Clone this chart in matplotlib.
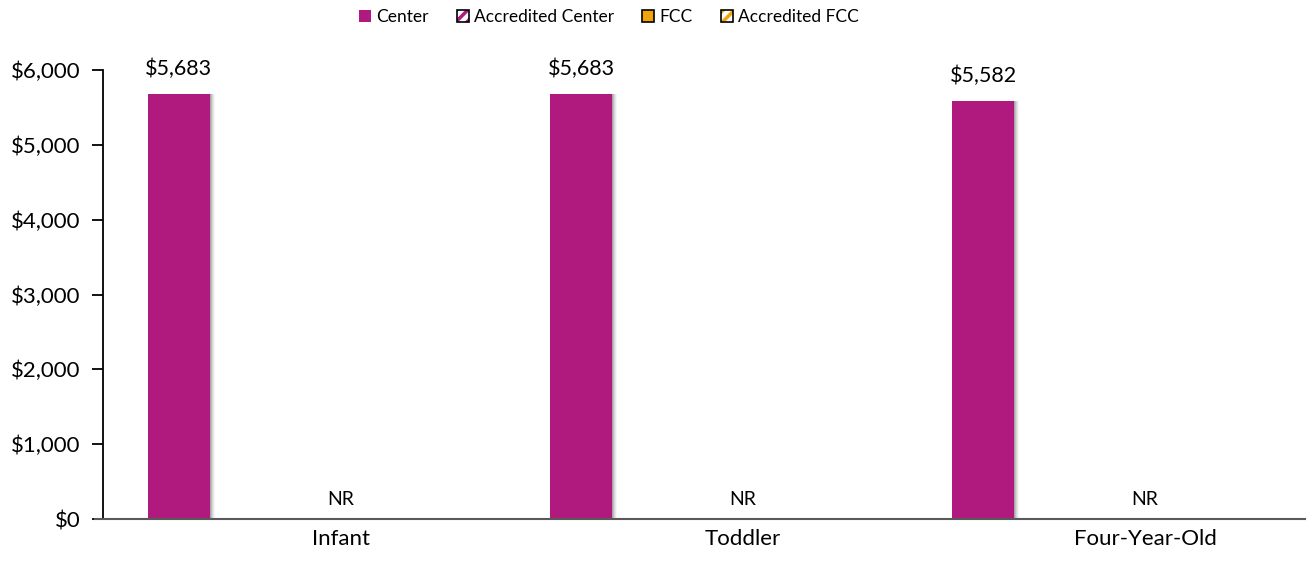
import matplotlib
matplotlib.use("Agg")
import matplotlib.pyplot as plt
from matplotlib.patches import Patch
from matplotlib.legend_handler import HandlerTuple
import numpy as np

categories = ["Infant", "Toddler", "Four-Year-Old"]
center_values = [5683, 5683, 5582]
center_labels = ["$5,683", "$5,683", "$5,582"]
nr_labels = ["NR", "NR", "NR"]
series_names = ["Center", "Accredited Center", "FCC", "Accredited FCC"]
yticks = [0, 1000, 2000, 3000, 4000, 5000, 6000]
ytick_labels = ["$0", "$1,000", "$2,000", "$3,000", "$4,000", "$5,000", "$6,000"]

MAGENTA = "#B01A7E"
ORANGE = "#F0A30A"

plt.rcParams['font.family'] = ['Lato', 'DejaVu Sans']
plt.rcParams['hatch.linewidth'] = 2.5

fig = plt.figure(figsize=(13.07, 5.65), dpi=100)
ax = fig.add_axes([103/1307, 1 - 519/565, (1305 - 103)/1307, (519 - 70)/565])

x = np.arange(len(categories))
off = -0.403
w = 0.154

# soft shadow to the right of bars
for i, a in enumerate([0.35, 0.25, 0.16, 0.09, 0.04]):
    ax.bar(x + off + w/2 + (i + 0.5) * 0.0025, center_values, width=0.0025,
           color="black", alpha=a, linewidth=0, zorder=1)

ax.bar(x + off, center_values, width=w, color=MAGENTA, linewidth=0, zorder=2)

for xi, v, lab in zip(x, center_values, center_labels):
    ax.text(xi + off, v + 200, lab, ha="center", va="bottom", fontsize=15.5)
for xi, lab in zip(x, nr_labels):
    ax.text(xi, 150, lab, ha="center", va="bottom", fontsize=14)

ax.set_xlim(-0.592, 2.398)
ax.set_ylim(0, 6000)
ax.set_yticks(yticks)
ax.set_yticklabels(ytick_labels, fontsize=16)
ax.set_xticks(x)
ax.set_xticklabels(categories, fontsize=16)
ax.tick_params(axis="x", length=0, pad=7)
ax.tick_params(axis="y", length=8, width=1.3, color="black", pad=8)

for s in ["top", "right"]:
    ax.spines[s].set_visible(False)
ax.spines["left"].set_color("black")
ax.spines["left"].set_linewidth(1.3)
ax.spines["bottom"].set_color("#595959")
ax.spines["bottom"].set_linewidth(1.5)
ax.spines["bottom"].set_bounds(-0.592 - 8/402, 2.398)
ax.spines["bottom"].set_zorder(3)

h_center = Patch(facecolor=MAGENTA, edgecolor=MAGENTA, linewidth=0)
h_acc_center = (Patch(facecolor="white", edgecolor=MAGENTA, hatch="///", linewidth=0),
                Patch(facecolor="none", edgecolor="black", linewidth=1.2))
h_fcc = Patch(facecolor=ORANGE, edgecolor="black", linewidth=1.2)
h_acc_fcc = (Patch(facecolor="white", edgecolor=ORANGE, hatch="///", linewidth=0),
             Patch(facecolor="none", edgecolor="black", linewidth=1.2))

leg = fig.legend([h_center, h_acc_center, h_fcc, h_acc_fcc], series_names,
                 loc="center", bbox_to_anchor=(609/1307, 1 - 17/565),
                 ncol=4, frameon=False, fontsize=12.5,
                 handlelength=0.7, handleheight=0.7,
                 handletextpad=0.3, columnspacing=1.6,
                 handler_map={tuple: HandlerTuple(ndivide=1, pad=0)})

fig.savefig("out.png", dpi=100)
